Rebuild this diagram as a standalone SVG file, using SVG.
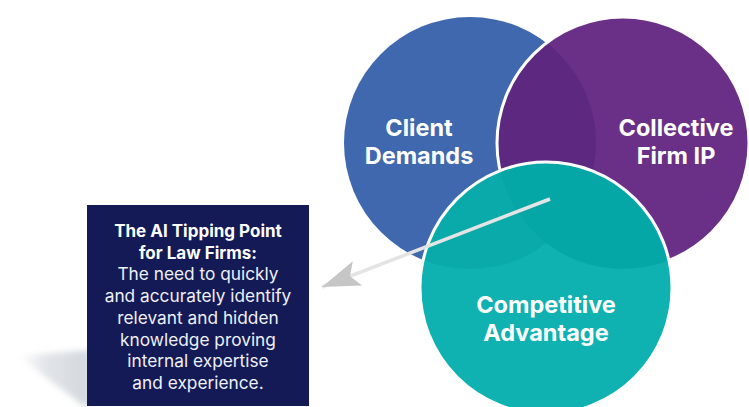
<svg xmlns="http://www.w3.org/2000/svg" width="749" height="407" viewBox="0 0 749 407">
<style>
.lbl{font-family:Inter,"Liberation Sans",Arial,sans-serif;font-weight:700;font-size:23.5px;fill:#ffffff;text-anchor:middle}
.ttl{font-family:Inter,"Liberation Sans",Arial,sans-serif;font-weight:700;font-size:17px;fill:#ffffff;text-anchor:middle}
.body{font-family:Inter,"Liberation Sans",Arial,sans-serif;font-weight:400;font-size:17.3px;fill:#eef0f6;text-anchor:middle}
</style>
<defs>
<clipPath id="cBlue"><circle cx="470" cy="143" r="126"/></clipPath>
<clipPath id="cPurple"><circle cx="623" cy="143" r="126"/></clipPath>
<clipPath id="cTeal"><circle cx="546" cy="288" r="126"/></clipPath>
<linearGradient id="shGrad" x1="0" y1="0" x2="1" y2="0">
<stop offset="0" stop-color="#d6dbe0" stop-opacity="0"/>
<stop offset="0.4" stop-color="#d6dbe0" stop-opacity="0.75"/>
<stop offset="1" stop-color="#d3d8de"/>
</linearGradient>
<filter id="blur" x="-20%" y="-20%" width="140%" height="140%"><feGaussianBlur stdDeviation="3"/></filter>
<marker id="arr" markerUnits="userSpaceOnUse" markerWidth="40" markerHeight="30" viewBox="0 0 40 30" refX="38" refY="15" orient="auto">
<path d="M0,2 L38,15 L0,28 L8,15 Z" fill="#c6c6c6"/>
</marker>
</defs>

<g id="shadow">
<polygon points="18,356 90,350 90,406 84,406" fill="url(#shGrad)" filter="url(#blur)"/>
</g>

<g id="node-client">
<circle cx="470" cy="143" r="126" fill="#3f68ae"/>
</g>
<g id="node-firm">
<circle cx="623" cy="143" r="126" fill="#6a2f87"/>
<circle cx="470" cy="143" r="126" fill="#5d287f" clip-path="url(#cPurple)"/>
<circle cx="623" cy="143" r="126" fill="none" stroke="#ffffff" stroke-width="3"/>
</g>
<g id="node-competitive">
<circle cx="546" cy="288" r="126" fill="#0fb1b1"/>
<g clip-path="url(#cTeal)">
<circle cx="470" cy="143" r="126" fill="#0aaaab"/>
<circle cx="623" cy="143" r="126" fill="#05a6a6"/>
</g>
<circle cx="546" cy="288" r="126" fill="none" stroke="#ffffff" stroke-width="3"/>
</g>

<g id="labels">
<text class="lbl" x="419" y="136">Client</text>
<text class="lbl" x="419" y="164">Demands</text>
<text class="lbl" x="676" y="136">Collective</text>
<text class="lbl" x="676" y="164">Firm IP</text>
<text class="lbl" x="546" y="313">Competitive</text>
<text class="lbl" x="546" y="341">Advantage</text>
</g>

<g id="connectors">
<line x1="550" y1="199" x2="322" y2="287" stroke="#e4e4e4" stroke-width="3.5" marker-end="url(#arr)"/>
</g>

<g id="node-tipping">
<rect x="87" y="205" width="222" height="201" fill="#131a56"/>
<text class="ttl" x="198" y="237">The AI Tipping Point</text>
<text class="ttl" x="198" y="259">for Law Firms:</text>
<text class="body" x="198" y="280">The need to quickly</text>
<text class="body" x="198" y="302">and accurately identify</text>
<text class="body" x="198" y="324">relevant and hidden</text>
<text class="body" x="198" y="346">knowledge proving</text>
<text class="body" x="198" y="367">internal expertise</text>
<text class="body" x="198" y="389">and experience.</text>
</g>
</svg>
